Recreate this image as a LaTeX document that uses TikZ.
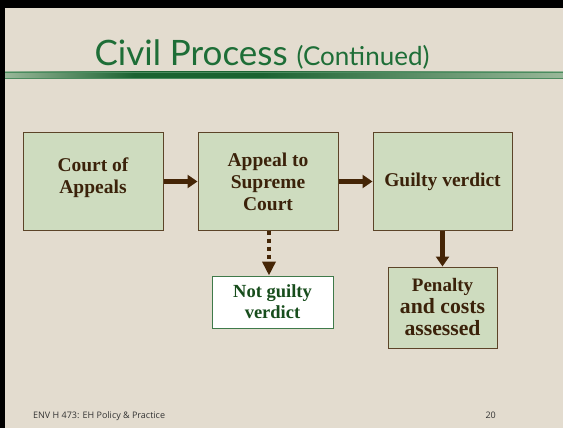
\documentclass[tikz,border=0pt]{standalone}
\usepackage{fontspec}
\setmainfont{Liberation Serif}
\newfontfamily\titlefont{Lato}
\newfontfamily\footfont{Open Sans}
\usetikzlibrary{arrows.meta,positioning}

\definecolor{paper}{HTML}{E3DCCF}
\definecolor{titlegreen}{HTML}{1E6E37}
\definecolor{boxfill}{HTML}{CEDCBF}
\definecolor{boxline}{HTML}{5C4428}
\definecolor{arrowbrown}{HTML}{452506}
\definecolor{boxtext}{HTML}{3B220A}
\definecolor{nglinegreen}{HTML}{3F7A4A}
\definecolor{ngtext}{HTML}{174D1C}

\tikzset{
  stage/.style={draw=boxline, fill=boxfill, line width=1pt, text=boxtext,
    font=\bfseries\fontsize{19.5}{22}\selectfont, align=center,
    inner sep=0pt},
  outcome/.style={draw=nglinegreen, fill=white, line width=1pt, text=ngtext,
    font=\bfseries\fontsize{18.5}{21}\selectfont, align=center,
    inner sep=0pt, minimum width=121pt, minimum height=52pt},
  flow/.style={draw=arrowbrown, line width=4.5pt,
    -{Triangle[length=10pt,width=13pt]}},
  maybeflow/.style={draw=arrowbrown, line width=4pt, dash pattern=on 4pt off 4pt,
    -{Triangle[length=14pt,width=13pt]}}
}

\begin{document}
\begin{tikzpicture}[x=1pt,y=-1pt]
  % Slide frame and paper
  \fill[black] (0,0) rectangle (563,428);
  \fill[paper] (5,8) rectangle (563,428);
  \useasboundingbox (0,0) rectangle (563,428);

  % Title and rule
  \node[anchor=base, text=titlegreen, inner sep=0pt] (title) at (262,66)
    {\titlefont\fontsize{35}{40}\selectfont Civil Process
     \fontsize{26}{30}\selectfont(Continued)};
  \shade[left color=green!30!black!40!white, right color=titlegreen!90!black,
    middle color=titlegreen!90!black] (5,72) rectangle (263,79);
  \shade[right color=green!30!black!40!white, left color=titlegreen!90!black]
    (262,72) rectangle (563,79);
  \draw[titlegreen!80, line width=0.8pt] (5,72.4) -- (563,72.4);
  \draw[titlegreen!80, line width=0.8pt] (5,78.6) -- (563,78.6);

  % Process boxes
  \node[stage, minimum width=140pt, minimum height=97pt] (appeals) at (93,181.5)
    {Court of\\Appeals\\[-10pt]};
  \node[stage, minimum width=140pt, minimum height=97pt] (supreme) at (268,181.5)
    {Appeal to\\Supreme\\Court};
  \node[stage, minimum width=139pt, minimum height=97pt] (guilty) at (442.5,181.5)
    {Guilty verdict};
  \node[stage, minimum width=109pt, minimum height=81pt] (penalty) at (442.5,307.5)
    {\fontsize{19}{25}\selectfont Penalty\\
     \fontsize{21.7}{25}\selectfont and costs\\
     \fontsize{21.7}{25}\selectfont assessed};
  \node[outcome] (notguilty) at (272.5,302) {Not guilty\\verdict};

  % Arrows
  \draw[flow] (appeals.east) -- (supreme.west);
  \draw[flow] (supreme.east) -- (guilty.west);
  \draw[flow] (guilty.south) -- (penalty.north);
  \draw[maybeflow] ([xshift=1pt]supreme.south) -- ([xshift=1pt]supreme.south |- notguilty.north);

  % Footer
  \node[anchor=base west, inner sep=0pt, text=black!80] (course) at (33,418)
    {\footfont\fontsize{9}{11}\selectfont ENV H 473: EH Policy \& Practice};
  \node[anchor=base east, inner sep=0pt, text=black!80] (slideno) at (496,418)
    {\footfont\fontsize{9}{11}\selectfont 20};
\end{tikzpicture}
\end{document}
